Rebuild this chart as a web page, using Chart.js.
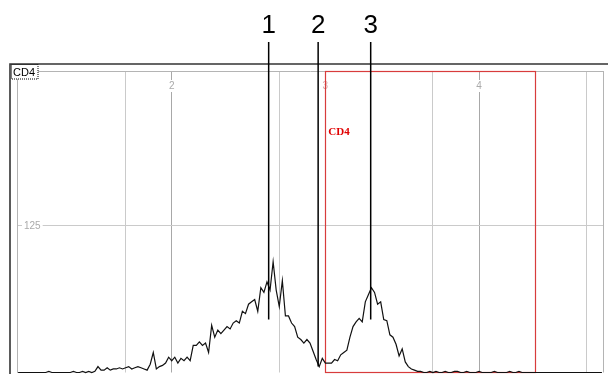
<!DOCTYPE html>
<html>
<head>
<meta charset="utf-8">
<script src="https://cdn.jsdelivr.net/npm/chart.js@4.4.1/dist/chart.umd.min.js"></script>
<style>
  html, body { margin: 0; padding: 0; background: #fff; }
</style>
</head>
<body>
<canvas id="histChart" width="608" height="374"></canvas>
<script>
// histogram channels, x in log10 decades (0.02 decade per channel from 10^1)
const binStart = 1.0;
const binWidth = 0.02;
const counts = [
  0, 0, 0, 0, 0, 0, 0, 0, 0, 0,
  1, 0, 0, 0, 0, 0, 0, 0, 1, 0,
  0, 1, 0, 1, 0, 1, 5, 2, 2, 4,
  2, 3, 3, 4, 3, 4, 5, 3, 4, 5,
  4, 3, 2, 7, 17, 3, 5, 6, 8, 13,
  10, 13, 8, 12, 10, 13, 10, 23, 23, 26,
  23, 25, 17, 40, 30, 36, 33, 36, 39, 37,
  42, 44, 42, 52, 50, 58, 60, 62, 52, 72,
  68, 77, 70, 94, 70, 56, 78, 48, 48, 42,
  39, 30, 28, 25, 28, 25, 18, 11, 5, 12,
  8, 8, 8, 11, 10, 15, 17, 19, 30, 39,
  43, 46, 43, 60, 66, 72, 68, 58, 60, 45,
  44, 32, 30, 24, 14, 20, 9, 5, 3, 2,
  1, 1, 0, 0, 1, 0, 1, 0, 0, 1,
  0, 0, 1, 1, 0, 0, 1, 0, 0, 0,
  1, 0, 0, 0, 0, 1, 0, 0, 0, 0,
  1, 0, 0, 1, 0, 0, 0, 0, 0, 0,
  0, 0, 0, 0, 0, 0, 0, 0, 0, 0,
  0, 0, 0, 0, 0, 0, 0, 0, 0, 0,
  0
];

// axis
const xRange = [0.993, 4.807];
const yRange = [0, 256];
const gridDecades = [1.699, 2, 2.699, 3, 3.699, 4, 4.699];
const decadeLabels = [2, 3, 4];
const yTickValues = [125];

// markers 1,2,3 (x in decades, lower end in counts)
const markerNames = ['1', '2', '3'];
const markerPos = [2.631, 2.953, 3.295];
const markerEnds = [45, 5, 45];

// CD4 gate
const gateName = 'CD4';
const gateRange = [3.0, 4.369];
const gateLabelY = 202;

const histData = counts.map((c, i) => ({ x: binStart + i * binWidth, y: c }));

const decor = {
  id: 'decor',
  beforeDatasetsDraw(chart) {
    const { ctx, chartArea: a, scales: { x, y } } = chart;
    ctx.save();
    // right border of plot
    ctx.strokeStyle = '#b4b4b4';
    ctx.lineWidth = 1;
    ctx.beginPath();
    ctx.moveTo(Math.round(a.right) + 0.5, a.top);
    ctx.lineTo(Math.round(a.right) + 0.5, a.bottom);
    ctx.stroke();

    // tick labels sitting on the grid
    ctx.font = '10px "Liberation Sans", Arial, sans-serif';
    ctx.textAlign = 'center';
    ctx.textBaseline = 'middle';
    decadeLabels.forEach(d => {
      const px = x.getPixelForValue(d);
      const w = ctx.measureText(String(d)).width + 4;
      ctx.fillStyle = '#fff';
      ctx.fillRect(px - w / 2, a.top + 9, w, 12);
      ctx.fillStyle = d === 3 ? '#d8a8a8' : '#aaa';
      ctx.fillText(String(d), px, a.top + 15);
    });
    ctx.textAlign = 'left';
    yTickValues.forEach(v => {
      const py = y.getPixelForValue(v);
      const w = ctx.measureText(String(v)).width + 4;
      ctx.fillStyle = '#fff';
      ctx.fillRect(a.left + 5, py - 6, w, 12);
      ctx.fillStyle = '#aaa';
      ctx.fillText(String(v), a.left + 7, py + 1);
    });

    // gate rectangle
    const gl = x.getPixelForValue(gateRange[0]);
    const gr = x.getPixelForValue(gateRange[1]);
    ctx.strokeStyle = '#d83c3c';
    ctx.lineWidth = 1.2;
    ctx.strokeRect(Math.round(gl) + 0.5, Math.round(a.top) + 0.5, Math.round(gr - gl), Math.round(a.bottom - a.top) - 1);
    ctx.fillStyle = '#e00000';
    ctx.font = 'bold 11px "Liberation Serif", "Times New Roman", serif';
    ctx.textBaseline = 'alphabetic';
    ctx.fillText(gateName, gl + 3, y.getPixelForValue(gateLabelY));
    ctx.restore();
  },
  afterDraw(chart) {
    const { ctx, chartArea: a, scales: { x, y } } = chart;
    ctx.save();
    // outer frame
    ctx.strokeStyle = '#333';
    ctx.lineWidth = 1.6;
    ctx.beginPath();
    ctx.moveTo(10, chart.height);
    ctx.lineTo(10, a.top - 7);
    ctx.lineTo(chart.width, a.top - 7);
    ctx.stroke();

    // channel name box
    ctx.fillStyle = '#fff';
    ctx.fillRect(11, a.top - 6, 27, 14);
    ctx.setLineDash([1, 1]);
    ctx.lineWidth = 1;
    ctx.strokeStyle = '#000';
    ctx.strokeRect(11.5, a.top - 6.5, 26.5, 14.5);
    ctx.setLineDash([]);
    ctx.fillStyle = '#000';
    ctx.font = '11px "Liberation Sans", Arial, sans-serif';
    ctx.textAlign = 'left';
    ctx.textBaseline = 'alphabetic';
    ctx.fillText(gateName, 13, a.top + 5);

    // markers
    ctx.strokeStyle = '#000';
    ctx.lineWidth = 1.5;
    ctx.textAlign = 'center';
    ctx.font = '26px "Liberation Sans", Arial, sans-serif';
    markerNames.forEach((m, i) => {
      const px = x.getPixelForValue(markerPos[i]);
      ctx.beginPath();
      ctx.moveTo(px, a.top - 29);
      ctx.lineTo(px, y.getPixelForValue(markerEnds[i]));
      ctx.stroke();
      ctx.fillText(m, px, a.top - 38.5);
    });
    ctx.restore();
  }
};

new Chart(document.getElementById('histChart'), {
  type: 'line',
  data: {
    datasets: [{
      data: histData,
      borderColor: '#111',
      borderWidth: 1.2,
      pointRadius: 0,
      tension: 0,
      fill: false,
      clip: 2
    }]
  },
  options: {
    responsive: false,
    animation: false,
    devicePixelRatio: 1,
    layout: { padding: { left: 17, top: 71, right: 5, bottom: 1.5 } },
    plugins: { legend: { display: false }, tooltip: { enabled: false } },
    scales: {
      x: {
        type: 'linear',
        position: 'top',
        min: xRange[0],
        max: xRange[1],
        afterBuildTicks: s => { s.ticks = gridDecades.map(v => ({ value: v })); },
        ticks: { display: false },
        grid: {
          drawTicks: false,
          color: c => Number.isInteger(c.tick.value) ? '#a8a8a8' : '#cacaca'
        },
        border: { color: '#b4b4b4' }
      },
      y: {
        min: yRange[0],
        max: yRange[1],
        afterBuildTicks: s => { s.ticks = yTickValues.map(v => ({ value: v })); },
        ticks: { display: false },
        grid: { drawTicks: false, color: '#cacaca' },
        border: { color: '#b4b4b4' }
      }
    }
  },
  plugins: [decor]
});
</script>
</body>
</html>
